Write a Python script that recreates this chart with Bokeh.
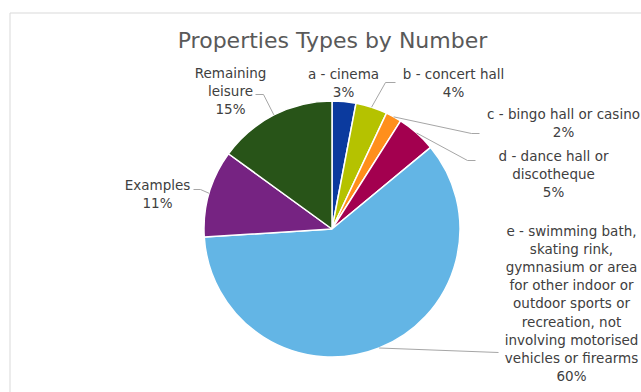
import math
from bokeh.plotting import figure
from bokeh.models import Range1d, ColumnDataSource
from bokeh.core.properties import value
from bokeh.embed import file_html
from bokeh.resources import INLINE

# ---------------- data ----------------
categories = [
    "a - cinema",
    "b - concert hall",
    "c - bingo hall or casino",
    "d - dance hall or discotheque",
    "e - swimming bath, skating rink, gymnasium or area for other indoor or outdoor sports or recreation, not involving motorised vehicles or firearms",
    "Examples",
    "Remaining leisure",
]
values = [3, 4, 2, 5, 60, 11, 15]
label_lines = [
    ["a - cinema"],
    ["b - concert hall"],
    ["c - bingo hall or casino"],
    ["d - dance hall or", "discotheque"],
    ["e - swimming bath,", "skating rink,", "gymnasium or area", "for other indoor or",
     "outdoor sports or", "recreation, not", "involving motorised", "vehicles or firearms"],
    ["Examples"],
    ["Remaining", "leisure"],
]
colors = ["#0b3a9e", "#b5c200", "#ff8f1c", "#a3004f", "#63b5e5", "#762382", "#285418"]
title = "Properties Types by Number"

# ---------------- layout (pixel coords, y down) ----------------
W, H = 641, 392
CX, CY_PX, R = 331.5, 228.5, 128
LINE_STEP = 18.2
label_anchor = [(343, 73.5), (453, 73.5), (563, 113), (553, 155), (571, 230), (157, 184), (230, 72)]
leader_tail = [None, [(385, 82), (395, 82)], [(471, 133), (479, 133)], [(467, 160), (475, 160)],
               [(498, 352)], [(200, 189), (193, 189)], [(263, 94), (255, 94)]]
FONT = value("DejaVu Sans")
TXT = "#404040"


def Y(py):
    return H - py


p = figure(width=W, height=H, output_backend="svg", toolbar_location=None,
           x_range=Range1d(0, W), y_range=Range1d(0, H),
           x_axis_type=None, y_axis_type=None, min_border=0,
           outline_line_color=None, background_fill_color="white",
           border_fill_color="white")
p.grid.visible = False

# chart area border
p.line(x=[9.5, 9.5, W + 5], y=[Y(H + 5), Y(12.5), Y(12.5)], line_color="#d9d9d9", line_width=1)

# wedges
total = float(sum(values))
starts, ends, mids = [], [], []
cum = 0.0
for v in values:
    f0 = cum / total
    cum += v
    f1 = cum / total
    starts.append(math.pi / 2 - 2 * math.pi * f0)
    ends.append(math.pi / 2 - 2 * math.pi * f1)
    mids.append((f0 + f1) / 2)

src = ColumnDataSource(dict(x=[CX] * len(values), y=[Y(CY_PX)] * len(values),
                            start=starts, end=ends, color=colors, cat=categories, val=values))
p.wedge(x="x", y="y", radius=R, start_angle="start", end_angle="end", direction="clock",
        fill_color="color", line_color="white", line_width=1.5, source=src)

# leader lines
for i, tail in enumerate(leader_tail):
    if tail is None:
        continue
    a = 2 * math.pi * mids[i]
    sx = CX + R * math.sin(a)
    sy_px = CY_PX - R * math.cos(a)
    xs = [sx] + [t[0] for t in tail]
    ys = [Y(sy_px)] + [Y(t[1]) for t in tail]
    p.line(x=xs, y=ys, line_color="#a6a6a6", line_width=1)

# labels
tx, ty, tt = [], [], []
for i, lines in enumerate(label_lines):
    ax, ay = label_anchor[i]
    full = lines + [f"{values[i]}%"]
    for k, s in enumerate(full):
        tx.append(ax)
        ty.append(Y(ay + k * LINE_STEP))
        tt.append(s)
p.text(x=tx, y=ty, text=tt, text_font=FONT, text_font_size="13.5px", text_color=TXT,
       text_align="center", text_baseline="middle")

# title
p.text(x=[332], y=[Y(40)], text=[title], text_font=FONT, text_font_size="22px",
       text_color="#595959", text_align="center", text_baseline="middle")

open("out.html", "w").write(file_html(p, INLINE))
